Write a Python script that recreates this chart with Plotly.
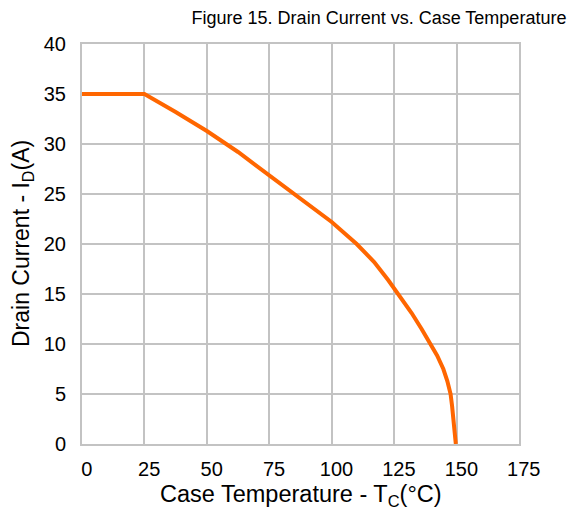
import plotly.graph_objects as go

temp_c = [0, 25, 37.5, 50, 62.5, 75, 87.5, 100, 110, 117, 122.6, 125, 132, 136, 139.4, 142.2, 144.7, 146.3, 147.6, 148.2, 149.7]
drain_a = [35, 35, 33.2, 31.3, 29.2, 26.9, 24.6, 22.2, 20.0, 18.2, 16.4, 15.6, 13.1, 11.5, 10.0, 8.85, 7.5, 6.3, 5.0, 3.8, 0]

x_ticks = [0, 25, 50, 75, 100, 125, 150, 175]
y_ticks = [0, 5, 10, 15, 20, 25, 30, 35, 40]

fig = go.Figure()
fig.add_trace(go.Scatter(
    x=temp_c, y=drain_a, mode="lines",
    line=dict(color="#FF6600", width=4),
    hoverinfo="skip", showlegend=False,
))

# page body has an 8px default margin; the figure is sized to fit the rest
W, H = 571, 504
L, R, T, B = 74, 60, 36, 68
pw, ph = W - L - R, H - T - B

font_family = "Liberation Sans, Arial, sans-serif"
grid = "#C3C3C3"
fig.update_layout(
    width=W, height=H,
    margin=dict(l=L, r=R, t=T, b=B),
    paper_bgcolor="white", plot_bgcolor="white",
    font=dict(family=font_family, size=20, color="#000000"),
    title=dict(text="Figure 15. Drain Current vs. Case Temperature",
               x=(379 - 8) / W, xanchor="center", xref="container",
               y=1 - 3 / H, yanchor="top", yref="container",
               font=dict(size=18, color="#000000")),
    annotations=[
        dict(text="Case Temperature - T<sub>C</sub>(°C)", xref="paper", yref="paper",
             x=0.5, y=-(495 - 444) / ph, xanchor="center", yanchor="middle",
             showarrow=False, font=dict(size=23.5)),
        dict(text="Drain Current - I<sub>D</sub>(A)", xref="paper", yref="paper",
             x=-(82 - 22) / pw, y=0.5, xanchor="center", yanchor="middle",
             textangle=-90, showarrow=False, font=dict(size=23)),
    ],
)

fig.update_xaxes(
    range=[0, 175], tickvals=x_ticks,
    ticktext=["\u2009\u00a0" + str(v) for v in x_ticks],
    showgrid=True, gridcolor=grid, gridwidth=2,
    showline=True, linecolor=grid, linewidth=2, mirror=True,
    zeroline=False, ticks="", ticklabelstandoff=6, automargin=False,
    tickfont=dict(size=20),
)
fig.update_yaxes(
    range=[0, 40], tickvals=y_ticks, ticktext=[str(v) for v in y_ticks],
    showgrid=True, gridcolor=grid, gridwidth=2,
    showline=True, linecolor=grid, linewidth=2, mirror=True,
    zeroline=False, ticks="", ticklabelstandoff=10, automargin=False,
    tickfont=dict(size=20),
)

fig.write_html("out.html")
